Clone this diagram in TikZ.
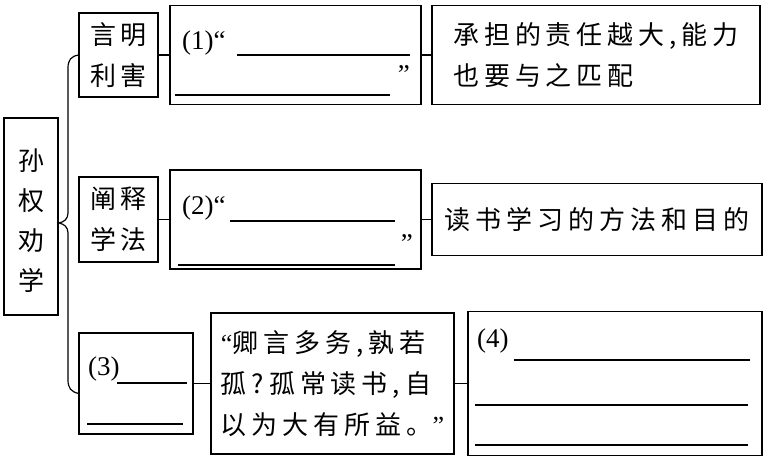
\documentclass[tikz,border=0pt]{standalone}
\usepackage{fontspec}
\setmainfont{Liberation Serif}
\newfontfamily\cjk[LetterSpace=19]{Noto Sans CJK SC}
\newfontfamily\cjkv{Noto Sans CJK SC}
\usetikzlibrary{positioning}

\tikzset{
  box/.style={draw, line width=1.2pt, outer sep=0pt, inner sep=0pt, align=left,
    font=\cjk\fontsize{26}{41}\selectfont},
  num/.style={anchor=base west, inner sep=0pt, font=\fontsize{27}{27}\selectfont},
  blank/.style={line width=1.2pt},
}

\begin{document}
\begin{tikzpicture}[x=1pt, y=-1pt]
\useasboundingbox (0,0) rectangle (768,460);
% root
\node[box, minimum width=54pt, minimum height=197pt, align=center,
  font=\cjkv\fontsize{26}{40}\selectfont] (sunquan) at (31,216.5) {\rule{0pt}{30pt}孙\\权\\劝\\学};
% row 1
\node[box, minimum width=79pt, minimum height=84pt, align=center] (yanming) at (118.5,55) {言明\\利害};
\node[box, minimum width=251pt, minimum height=99pt, right=12pt of yanming] (blank1) {};
\node[box, minimum width=328pt, minimum height=99pt, right=11pt of blank1] (zeren) {承担的责任越大,能力\\也要与之匹配};
% row 2
\node[box, minimum width=79pt, minimum height=85pt, align=center] (chanshi) at (118.5,219.5) {阐释\\学法};
\node[box, minimum width=251pt, minimum height=99pt, right=12pt of chanshi] (blank2) {};
\node[box, minimum width=330pt, minimum height=72pt, right=11pt of blank2] (dushu) {读书学习的方法和目的};
% row 3
\node[box, minimum width=114pt, minimum height=101pt] (blank3) at (136,383.5) {};
\node[box, minimum width=243pt, minimum height=141pt, right=18pt of blank3] (quote)
  {{\rmfamily“}卿言多务,孰若\\孤?孤常读书,自\\以为大有所益。{\rmfamily”}};
\node[box, minimum width=294pt, minimum height=144pt, right=14pt of quote] (blank4) {};

% numbers and blanks
\node[num] (n1) at (182,49) {(1)“};
\node[num, anchor=base east] (q1) at (410,84) {”};
\node[num] (n2) at (182,214) {(2)“};
\node[num, anchor=base east] (q2) at (413,252) {”};
\node[num] (n3) at (88,375) {(3)};
\node[num] (n4) at (477,347) {(4)};
\foreach \xa/\xb/\y in {237/410/55, 175/390/95, 230/395/221, 178/395/265,
    117/187/383, 87/183/424, 514/750/360, 475/748/405, 475/748/445}
  \draw[blank] (\xa,\y) -- (\xb,\y);

% connectors
\draw[blank] (yanming) -- (blank1);
\draw[blank] (blank1) -- (zeren);
\draw[blank] (chanshi) -- (blank2);
\draw[blank] (blank2) -- (dushu);
\draw[blank] (blank3) -- (quote);
\draw[blank] (quote) -- (blank4);
\coordinate (fork) at ([yshift=-10pt]blank3.west);
\draw[blank] (yanming.west) .. controls (71,56) and (68,60) .. (68,68) -- (68,213)
  .. controls (68,219) and (64,222) .. (59,223) .. controls (64,224) and (68,227) .. (68,233)
  -- (68,380) .. controls (68,388) and (71,392) .. (fork);
\end{tikzpicture}
\end{document}
